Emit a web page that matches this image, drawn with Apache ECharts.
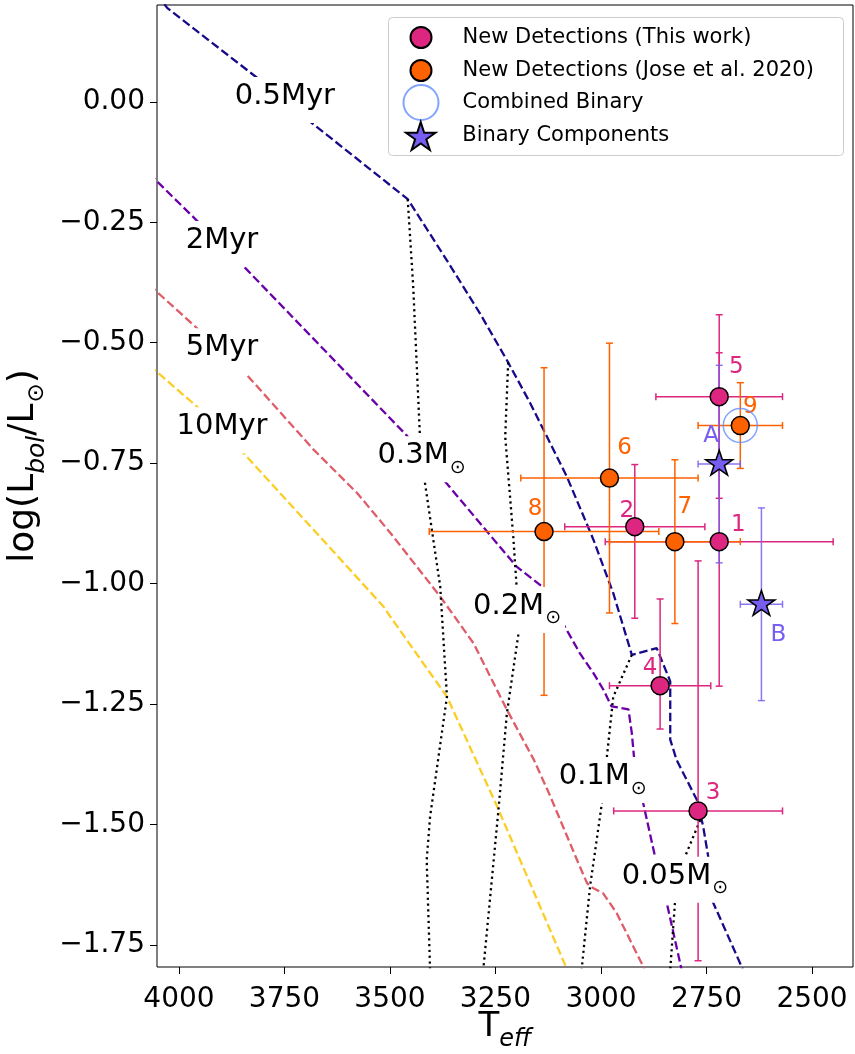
<!DOCTYPE html>
<html>
<head>
<meta charset="utf-8">
<script src="https://cdn.jsdelivr.net/npm/echarts@6/dist/echarts.min.js"></script>
<style>
  html, body { margin: 0; padding: 0; background: #fff; }
  #chart { width: 855px; height: 1054px; }
</style>
</head>
<body>
<div id="chart"></div>
<script>
// ---- Isochrones: Teff [K] and log(Lbol/Lsun) ----
const iso05T = [4069, 4028, 3815, 3685, 3458, 3366, 3287, 3220, 3168, 3081, 3018, 2971, 2927, 2868, 2836, 2836, 2821, 2773, 2758, 2746, 2734, 2667, 2644];
const iso05L = [0.243, 0.195, 0.050, -0.044, -0.202, -0.328, -0.439, -0.541, -0.625, -0.778, -0.909, -1.020, -1.148, -1.134, -1.203, -1.324, -1.366, -1.449, -1.504, -1.567, -1.663, -1.795, -1.843];
const iso2T = [4092, 4044, 3957, 3845, 3460, 3366, 3200, 3140, 3077, 3050, 3018, 2994, 2975, 2935, 2927, 2922, 2900, 2872, 2844, 2809, 2798];
const iso2L = [-0.131, -0.172, -0.247, -0.343, -0.693, -0.792, -0.965, -1.006, -1.103, -1.145, -1.186, -1.221, -1.255, -1.261, -1.311, -1.359, -1.456, -1.567, -1.664, -1.802, -1.843];
const iso5T = [4092, 4044, 3957, 3839, 3681, 3578, 3499, 3381, 3302, 3223, 3159, 3120, 3050, 3033, 3025, 2995, 2963, 2900, 2877];
const iso5L = [-0.363, -0.401, -0.470, -0.567, -0.722, -0.812, -0.895, -1.027, -1.124, -1.262, -1.366, -1.442, -1.588, -1.622, -1.629, -1.643, -1.684, -1.795, -1.843];
const iso10T = [4092, 4044, 3957, 3845, 3515, 3499, 3365, 3246, 3080, 3059];
const iso10L = [-0.531, -0.567, -0.633, -0.731, -1.048, -1.069, -1.235, -1.463, -1.802, -1.843];

// ---- Evolutionary mass tracks ----
const m03T = [3458, 3445, 3429, 3417, 3381, 3365, 3405, 3413, 3405, 3405];
const m03L = [-0.202, -0.383, -0.695, -0.792, -1.006, -1.235, -1.484, -1.574, -1.802, -1.843];
const m02T = [3220, 3227, 3208, 3200, 3196, 3223, 3243, 3279, 3284];
const m02L = [-0.541, -0.695, -0.902, -1.006, -1.107, -1.269, -1.470, -1.802, -1.843];
const m01T = [2927, 2971, 2986, 2998, 3026, 3046, 3050];
const m01L = [-1.148, -1.235, -1.359, -1.456, -1.629, -1.802, -1.843];
const m005T = [2765, 2801, 2825, 2836, 2839];
const m005L = [-1.491, -1.567, -1.664, -1.802, -1.843];

// ---- Curve labels (anchor in Teff, logL) ----
const curveLabelText = ['0.5Myr', '2Myr', '5Myr', '10Myr', '0.3M⊙', '0.2M⊙', '0.1M⊙', '0.05M⊙'];
const curveLabelT = [3749, 3898, 3898, 3898, 3425, 3199, 2996, 2825];
const curveLabelL = [0.004, -0.295, -0.518, -0.682, -0.742, -1.055, -1.408, -1.615];

// ---- New detections (this work) ----
const thisIds = ['1', '2', '3', '4', '5'];
const thisT = [2720, 2920, 2770, 2860, 2720];
const thisL = [-0.913, -0.882, -1.472, -1.212, -0.612];
const thisTerr = [270, 166, 200, 120, 150];
const thisLerrLow = [0.300, 0.190, 0.311, 0.090, 0.211];
const thisLerrHigh = [0.392, 0.129, 0.519, 0.180, 0.170];

// ---- New detections (Jose et al. 2020) ----
const joseIds = ['6', '7', '8', '9'];
const joseT = [2980, 2825, 3135, 2670];
const joseL = [-0.781, -0.913, -0.892, -0.672];
const joseTerr = [210, 155, 272, 100];
const joseLerr = [0.280, 0.170, 0.340, 0.089];

// ---- Combined binary and its components ----
const combinedT = [2670];
const combinedL = [-0.672];
const compIds = ['A', 'B'];
const compT = [2720, 2620];
const compL = [-0.752, -1.043];
const compTerr = [50, 50];
const compLerr = [0.205, 0.200];

// ---- Axis ticks ----
const xTicks = [2500, 2750, 3000, 3250, 3500, 3750, 4000];
const yTicks = [-1.75, -1.5, -1.25, -1.0, -0.75, -0.5, -0.25, 0.0];

// ---- Styling ----
const FONT = 'DejaVu Sans';
const PINK = '#dc267f', ORANGE = '#fe6100', VIOLET = '#785ef0', BLUE = '#648fff';
const ISO_COLORS = ['#170b8a', '#6a00a8', '#de5d68', '#fcce25'];
const DASH = [8.5, 3.7], DOT = [2.2, 3.6];
const STAR = 'path://M100,0L122.45,69.1L195.1,69.1L136.33,111.8L158.78,180.9L100,138.2L41.22,180.9L63.67,111.8L4.9,69.1L77.55,69.1Z';

const NAME_THIS = 'New Detections (This work)';
const NAME_JOSE = 'New Detections (Jose et al. 2020)';
const NAME_COMB = 'Combined Binary';
const NAME_COMP = 'Binary Components';

// label offsets (px) for the point identifiers
const idOffsets = {
  '1': [19, -17], '2': [-8, -16], '3': [15, -18], '4': [-10, -18], '5': [17, -30],
  '6': [15, -30], '7': [10, -35], '8': [-9, -22], '9': [10, -19],
  'A': [-8, -27], 'B': [17, 32]
};

function curve(name, T, L, color, type) {
  return {
    type: 'line', name, data: T.map((t, i) => [t, L[i]]),
    showSymbol: false, symbol: 'none', silent: true, clip: true, z: 1,
    lineStyle: { color, width: 2.3, type, cap: 'butt' }
  };
}

function errorBars(name, T, L, xe, lo, hi, color) {
  return {
    type: 'custom', name, silent: true, z: 2,
    encode: { x: 0, y: 1 },
    data: T.map((t, i) => [t, L[i], xe[i], lo[i], hi[i]]),
    renderItem(params, api) {
      const t = api.value(0), l = api.value(1);
      const a = api.coord([t + api.value(2), l]);
      const b = api.coord([t - api.value(2), l]);
      const up = api.coord([t, l + api.value(4)]);
      const dn = api.coord([t, l - api.value(3)]);
      const c = 3.5;
      const style = { stroke: color, lineWidth: 1.5, fill: null };
      const seg = (x1, y1, x2, y2) => ({ type: 'line', shape: { x1, y1, x2, y2 }, style });
      return {
        type: 'group', children: [
          seg(a[0], a[1], b[0], b[1]),
          seg(a[0], a[1] - c, a[0], a[1] + c),
          seg(b[0], b[1] - c, b[0], b[1] + c),
          seg(up[0], up[1], dn[0], dn[1]),
          seg(up[0] - c, up[1], up[0] + c, up[1]),
          seg(dn[0] - c, dn[1], dn[0] + c, dn[1])
        ]
      };
    }
  };
}

function points(name, ids, T, L, color, symbol, size, extra) {
  return Object.assign({
    type: 'scatter', name, symbol, symbolSize: size, z: 4,
    itemStyle: { color, borderColor: '#000', borderWidth: 1.5, opacity: 1 },
    emphasis: { disabled: true },
    data: T.map((t, i) => ({
      value: [t, L[i]], name: ids[i],
      label: { offset: idOffsets[ids[i]] }
    })),
    label: {
      show: true, position: 'inside', formatter: p => p.name,
      color, fontSize: 23, fontFamily: FONT
    }
  }, extra || {});
}

function legendFor(name, left, top, w, h, pad) {
  return {
    data: [name], left, top, padding: 0, itemWidth: w, itemHeight: h,
    textStyle: { fontSize: 21, lineHeight: 22, color: '#000', fontFamily: FONT, padding: [0, 0, 0, pad] },
    z: 6
  };
}

// curve labels sit on white boxes, which open a gap in whatever runs beneath them
const curveLabelRich = {
  n: { fontSize: 29, lineHeight: 36, verticalAlign: 'top', fill: '#000', fontFamily: FONT },
  s: { fontSize: 19, lineHeight: 19, verticalAlign: 'top', padding: [17, 0, 0, 1], fill: '#000', fontFamily: FONT }
};
function curveLabelMarkup(txt) {
  return txt.endsWith('⊙') ? '{n|' + txt.slice(0, -1) + '}{s|⊙}' : '{n|' + txt + '}';
}

const chart = echarts.init(document.getElementById('chart'), null, { renderer: 'canvas' });

chart.setOption({
  animation: false,
  textStyle: { fontFamily: FONT },
  grid: {
    left: 157, right: 2, top: 5, bottom: 87, outerBoundsMode: 'none', containLabel: false,
    show: true, borderColor: '#000', borderWidth: 1
  },
  xAxis: {
    type: 'value', inverse: true, min: 2403, max: 4052,
    axisLine: { show: false, onZero: false }, splitLine: { show: false },
    axisTick: { show: true, length: 7, customValues: xTicks, lineStyle: { color: '#000', width: 1 } },
    axisLabel: { customValues: xTicks, fontSize: 28, color: '#000', margin: 19, fontFamily: FONT, formatter: v => String(v) },
    name: '{a|T}{b|eff}', nameLocation: 'middle', nameGap: 43, nameMoveOverlap: false,
    nameTextStyle: {
      color: '#000',
      rich: {
        a: { fontSize: 34, lineHeight: 41, verticalAlign: 'top', fontFamily: FONT, color: '#000' },
        b: { fontSize: 24, lineHeight: 24, verticalAlign: 'top', fontStyle: 'italic', padding: [18, 0, 0, 0], fontFamily: FONT, color: '#000' }
      }
    }
  },
  yAxis: {
    type: 'value', min: -1.796, max: 0.201,
    axisLine: { show: false, onZero: false }, splitLine: { show: false },
    axisTick: { show: true, length: 7, customValues: yTicks, lineStyle: { color: '#000', width: 1 } },
    axisLabel: {
      customValues: yTicks, fontSize: 28, color: '#000', margin: 12, fontFamily: FONT,
      formatter: v => (v < 0 ? '\u2212' : '') + Math.abs(v).toFixed(2)
    },
    name: '{a|log(L}{b|bol}{a|/L}{c|⊙}{a|)}', nameLocation: 'middle', nameGap: 108, nameRotate: 90,
    nameMoveOverlap: false,
    nameTextStyle: {
      color: '#000', padding: [0, 0, 0, 40],
      rich: {
        a: { fontSize: 36, lineHeight: 43, verticalAlign: 'top', fontFamily: FONT, color: '#000' },
        b: { fontSize: 25, lineHeight: 25, verticalAlign: 'top', fontStyle: 'italic', padding: [19, 0, 0, 0], fontFamily: FONT, color: '#000' },
        c: { fontSize: 23, lineHeight: 23, verticalAlign: 'top', padding: [20, 0, 0, 1], fontFamily: FONT, color: '#000' }
      }
    }
  },
  legend: [
    legendFor(NAME_THIS, 409.5, 26, 21, 21, 26),
    legendFor(NAME_JOSE, 409.5, 59, 21, 21, 26),
    legendFor(NAME_COMB, 402.5, 84, 35, 35, 19),
    legendFor(NAME_COMP, 405, 121, 30, 28, 21.5)
  ],
  graphic: [{
    type: 'rect', z: 5, silent: true,
    shape: { x: 388.5, y: 17.5, width: 455, height: 138, r: 4 },
    style: { fill: 'rgba(255,255,255,0.8)', stroke: '#cccccc', lineWidth: 1 }
  }],
  series: [
    // marker series first so the legend picks up their symbols
    points(NAME_THIS, thisIds, thisT, thisL, PINK, 'circle', 18),
    points(NAME_JOSE, joseIds, joseT, joseL, ORANGE, 'circle', 18, { z: 5 }),
    {
      type: 'scatter', name: NAME_COMB, symbol: 'circle', symbolSize: 34, z: 6,
      emphasis: { disabled: true },
      itemStyle: { color: 'rgba(0,0,0,0)', borderColor: BLUE, borderWidth: 1.5 },
      data: combinedT.map((t, i) => [t, combinedL[i]])
    },
    points(NAME_COMP, compIds, compT, compL, VIOLET, STAR, [27, 26], { z: 7, symbolKeepAspect: true, symbolOffset: [0, -1.4] }),

    curve('0.5Myr', iso05T, iso05L, ISO_COLORS[0], DASH),
    curve('2Myr', iso2T, iso2L, ISO_COLORS[1], DASH),
    curve('5Myr', iso5T, iso5L, ISO_COLORS[2], DASH),
    curve('10Myr', iso10T, iso10L, ISO_COLORS[3], DASH),
    curve('0.3Msun', m03T, m03L, '#000', DOT),
    curve('0.2Msun', m02T, m02L, '#000', DOT),
    curve('0.1Msun', m01T, m01L, '#000', DOT),
    curve('0.05Msun', m005T, m005L, '#000', DOT),

    errorBars(NAME_THIS, thisT, thisL, thisTerr, thisLerrLow, thisLerrHigh, PINK),
    errorBars(NAME_JOSE, joseT, joseL, joseTerr, joseLerr, joseLerr, ORANGE),
    errorBars(NAME_COMP, compT, compL, compTerr, compLerr, compLerr, 'rgba(120,94,240,0.85)'),

    {
      type: 'custom', name: 'curve labels', silent: true, z: 10,
      encode: { x: 0, y: 1 },
      data: curveLabelT.map((t, i) => [t, curveLabelL[i]]),
      renderItem(params, api) {
        const p = api.coord([api.value(0), api.value(1)]);
        return {
          type: 'text', x: p[0], y: p[1],
          style: {
            text: curveLabelMarkup(curveLabelText[params.dataIndex]),
            rich: curveLabelRich,
            fill: '#000', fontSize: 29, fontFamily: FONT,
            align: 'center', verticalAlign: 'middle',
            backgroundColor: '#fff', padding: [5, 4]
          }
        };
      }
    }
  ]
});
</script>
</body>
</html>
